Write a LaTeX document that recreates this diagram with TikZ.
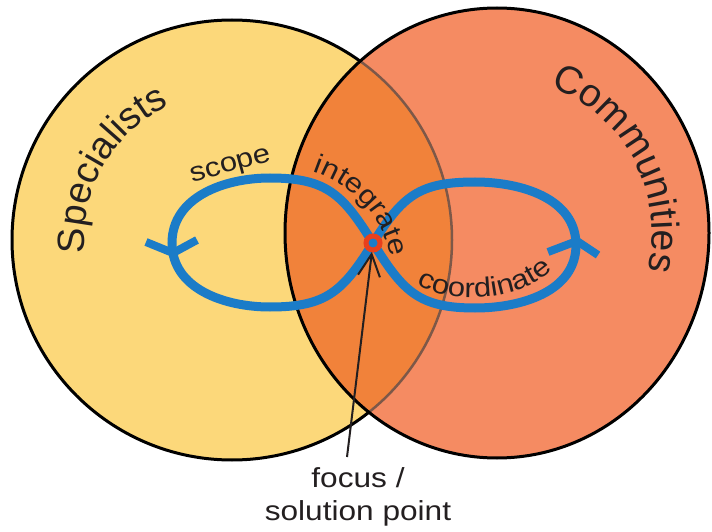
\documentclass[tikz,border=0pt]{standalone}
\usepackage{fontspec}
\setmainfont{Liberation Sans}[FakeStretch=1.15]
\newfontfamily\namefont{Liberation Sans}
\usetikzlibrary{arrows.meta,decorations.text}

\definecolor{specyellow}{RGB}{252,216,122}
\definecolor{commsalmon}{RGB}{245,139,98}
\definecolor{overlaporange}{RGB}{241,130,58}
\definecolor{rimbrown}{RGB}{125,88,72}
\definecolor{loopblue}{RGB}{27,124,200}
\definecolor{focusred}{RGB}{232,64,28}
\definecolor{textgray}{RGB}{35,31,32}

\tikzset{
  rim/.style={draw=black, line width=3pt},
  loopline/.style={draw=loopblue, line width=9pt},
  barb/.style={draw=loopblue, line width=8pt, line join=miter},
  pointer/.style={draw=textgray, line width=2pt, -{Straight Barb[length=22pt,width=22pt]}},
  curvedtext/.style={decorate, decoration={text along path, text align=center, text color=textgray}},
}

\begin{document}
\begin{tikzpicture}[x=1pt, y=1pt]
    \useasboundingbox (0,0) rectangle (712,531);

    \coordinate (lc) at (232,291);
    \coordinate (rc) at (497,298);

    % the two circles
    \fill[specyellow] (lc) circle (220pt);
    \draw[rim] (lc) circle (220pt);
    \fill[commsalmon] (rc) ellipse (212pt and 225pt);
    \begin{scope}
        \clip (lc) circle (220pt);
        \fill[overlaporange] (rc) ellipse (212pt and 225pt);
    \end{scope}
    \begin{scope}
        \clip (rc) ellipse (212pt and 225pt);
        \draw[rimbrown, line width=2.5pt] (lc) circle (220pt);
    \end{scope}
    \draw[rim] (rc) ellipse (212pt and 225pt);

    % figure eight
    \coordinate (c) at (373,288);
    \coordinate (ltop) at (270,353);
    \coordinate (lleft) at (172,288);
    \coordinate (lbot) at (270,224);
    \coordinate (rtop) at (475,349);
    \coordinate (rright) at (576,286);
    \coordinate (rbot) at (475,223);
    \draw[loopline] (c) to[out=122,in=0,looseness=1.2] (ltop) to[out=180,in=90] (lleft)
        to[out=-90,in=180] (lbot) to[out=0,in=-122,looseness=1.2] (c)
        to[out=58,in=180,looseness=1.2] (rtop) to[out=0,in=90] (rright)
        to[out=-90,in=0] (rbot) to[out=180,in=-58,looseness=1.2] (c);
    \draw[barb] (146,289) -- (173,278) -- (197,291);
    \draw[barb] (548,279) -- (577,290) -- (598,276);
    \draw[focusred, line width=5pt, fill=loopblue] (c) circle (7pt);

    % labels
    \path[curvedtext, decoration={text={|\namefont\fontsize{38}{38}\selectfont|Specialists}}]
        ([shift={(195:148pt)}]lc) arc[start angle=195, end angle=105, radius=148pt];
    \path[curvedtext, decoration={text={|\namefont\fontsize{39}{39}\selectfont|Communities}}]
        ([shift={(80:155pt)}]rc) arc[start angle=80, end angle=-24, radius=155pt];
    \node[rotate=15, text=textgray, font=\fontsize{27}{27}\selectfont] (scope) at (231,364) {scope};
    \path[curvedtext, decoration={text={|\fontsize{27}{27}\selectfont|integrate}}]
        (305,362) .. controls (347,350) and (384,320) .. (392,266);
    \path[curvedtext, decoration={text={|\fontsize{27}{27}\selectfont|coordinate}}]
        (410,252) .. controls (438,226) and (522,224) .. (558,268);

    \node[align=center, inner sep=0pt, text=textgray, font=\fontsize{27.5}{33}\selectfont] (focus) at (358,34) {focus /\\solution point};
    \coordinate (fp) at (347,74);
    \draw[pointer, shorten >=9pt] (fp) -- (c);
\end{tikzpicture}
\end{document}
